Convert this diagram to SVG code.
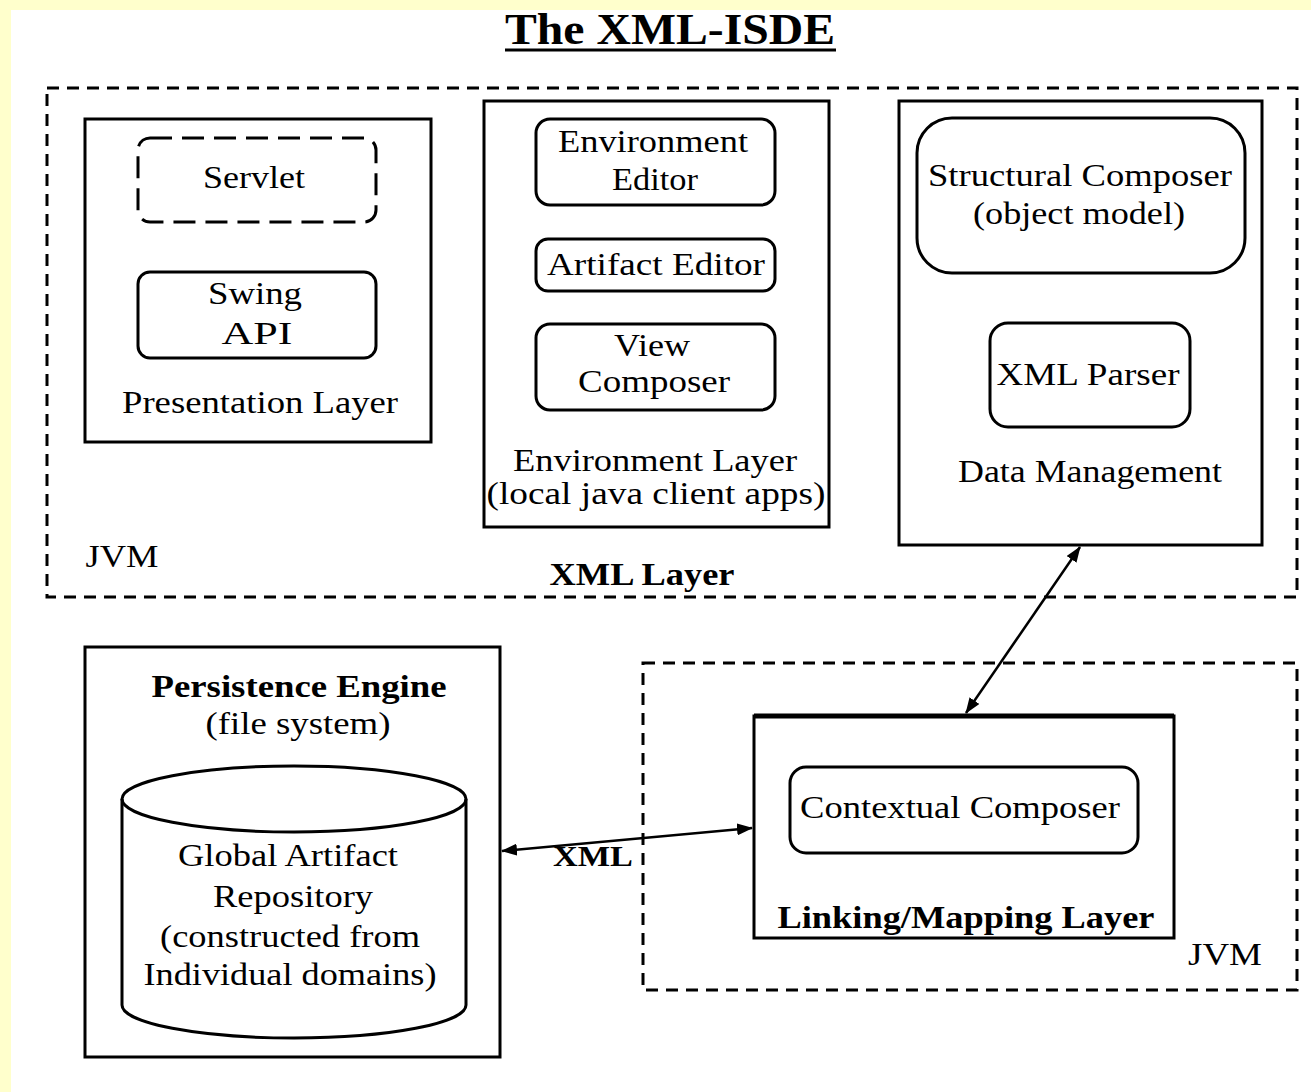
<svg xmlns="http://www.w3.org/2000/svg" width="1311" height="1092" viewBox="0 0 1311 1092">
  <defs>
    <style>
      text { font-family: "Liberation Serif", "Times New Roman", serif; font-size: 32px; fill: #000; text-anchor: middle; }
      .b { font-weight: bold; }
      .box { fill: none; stroke: #000; stroke-width: 3; }
      .jvm { fill: none; stroke: #000; stroke-width: 3; stroke-dasharray: 12 8; }
      .dash { fill: none; stroke: #000; stroke-width: 3; stroke-dasharray: 22 10; }
      .link { fill: none; stroke: #000; stroke-width: 2.5; }
    </style>
    <marker id="head" viewBox="0 0 16 12" refX="15" refY="6" markerWidth="16" markerHeight="12" markerUnits="userSpaceOnUse" orient="auto-start-reverse">
      <path d="M0,0 L16,6 L0,12 Z" fill="#000"/>
    </marker>
  </defs>

  <!-- page -->
  <rect x="0" y="0" width="1311" height="1092" fill="#FFFFCC"/>
  <rect x="11" y="10" width="1300" height="1082" fill="#FFFFFF"/>

  <!-- title -->
  <g id="title">
    <text x="670" y="44" class="b" style="font-size:44px" textLength="330" lengthAdjust="spacingAndGlyphs">The XML-ISDE</text>
    <line x1="505" y1="50" x2="836" y2="50" stroke="#000" stroke-width="3"/>
  </g>

  <!-- upper JVM: XML layer -->
  <g id="xml-layer">
    <rect class="jvm" x="47" y="88" width="1250" height="509"/>
    <text x="122" y="567" textLength="73" lengthAdjust="spacingAndGlyphs">JVM</text>
    <text x="642" y="585" class="b" textLength="185" lengthAdjust="spacingAndGlyphs">XML Layer</text>
  </g>

  <g id="presentation-layer">
    <rect class="box" x="85" y="119" width="346" height="323"/>
    <text x="260" y="413" textLength="276" lengthAdjust="spacingAndGlyphs">Presentation Layer</text>
  </g>
  <g id="servlet">
    <rect class="dash" x="138" y="138" width="238" height="84" rx="12"/>
    <text x="254" y="188" textLength="102" lengthAdjust="spacingAndGlyphs">Servlet</text>
  </g>
  <g id="swing-api">
    <rect class="box" x="138" y="272" width="238" height="86" rx="12"/>
    <text x="255" y="304" textLength="94" lengthAdjust="spacingAndGlyphs">Swing</text>
    <text x="257" y="344" textLength="71" lengthAdjust="spacingAndGlyphs">API</text>
  </g>

  <g id="environment-layer">
    <rect class="box" x="484" y="101" width="345" height="426"/>
    <text x="655" y="471" textLength="284" lengthAdjust="spacingAndGlyphs">Environment Layer</text>
    <text x="656" y="504" textLength="339" lengthAdjust="spacingAndGlyphs">(local java client apps)</text>
  </g>
  <g id="environment-editor">
    <rect class="box" x="536" y="119" width="239" height="86" rx="14"/>
    <text x="653" y="152" textLength="190" lengthAdjust="spacingAndGlyphs">Environment</text>
    <text x="655" y="190" textLength="86" lengthAdjust="spacingAndGlyphs">Editor</text>
  </g>
  <g id="artifact-editor">
    <rect class="box" x="536" y="239" width="239" height="52" rx="12"/>
    <text x="656" y="275" textLength="218" lengthAdjust="spacingAndGlyphs">Artifact Editor</text>
  </g>
  <g id="view-composer">
    <rect class="box" x="536" y="324" width="239" height="86" rx="14"/>
    <text x="652" y="356" textLength="76" lengthAdjust="spacingAndGlyphs">View</text>
    <text x="654" y="392" textLength="152" lengthAdjust="spacingAndGlyphs">Composer</text>
  </g>

  <g id="data-management">
    <rect class="box" x="899" y="101" width="363" height="444"/>
    <text x="1090" y="482" textLength="264" lengthAdjust="spacingAndGlyphs">Data Management</text>
  </g>
  <g id="structural-composer">
    <rect class="box" x="917" y="118" width="328" height="155" rx="35"/>
    <text x="1080" y="186" textLength="304" lengthAdjust="spacingAndGlyphs">Structural Composer</text>
    <text x="1079" y="224" textLength="212" lengthAdjust="spacingAndGlyphs">(object model)</text>
  </g>
  <g id="xml-parser">
    <rect class="box" x="990" y="323" width="200" height="104" rx="18"/>
    <text x="1088" y="385" textLength="183" lengthAdjust="spacingAndGlyphs">XML Parser</text>
  </g>

  <!-- persistence -->
  <g id="persistence-engine">
    <rect class="box" x="85" y="647" width="415" height="410"/>
    <text x="299" y="697" class="b" textLength="295" lengthAdjust="spacingAndGlyphs">Persistence Engine</text>
    <text x="298" y="734" textLength="185" lengthAdjust="spacingAndGlyphs">(file system)</text>
  </g>
  <g id="global-artifact-repository">
    <path class="box" d="M122,799 L122,1005 A172,33 0 0 0 466,1005 L466,799"/>
    <ellipse class="box" cx="294" cy="799" rx="172" ry="33"/>
    <text x="288" y="866" textLength="220" lengthAdjust="spacingAndGlyphs">Global Artifact</text>
    <text x="293" y="907" textLength="160" lengthAdjust="spacingAndGlyphs">Repository</text>
    <text x="290" y="947" textLength="260" lengthAdjust="spacingAndGlyphs">(constructed from</text>
    <text x="290" y="985" textLength="293" lengthAdjust="spacingAndGlyphs">Individual domains)</text>
  </g>

  <!-- lower JVM: linking/mapping -->
  <g id="lower-jvm">
    <rect class="jvm" x="643" y="663" width="654" height="327"/>
    <text x="1225" y="965" textLength="74" lengthAdjust="spacingAndGlyphs">JVM</text>
  </g>
  <g id="linking-mapping-layer">
    <rect class="box" x="754" y="716" width="420" height="222"/>
    <line x1="754" y1="716" x2="1174" y2="716" stroke="#000" stroke-width="5"/>
    <text x="966" y="928" class="b" textLength="377" lengthAdjust="spacingAndGlyphs">Linking/Mapping Layer</text>
  </g>
  <g id="contextual-composer">
    <rect class="box" x="790" y="767" width="348" height="86" rx="16"/>
    <text x="960" y="818" textLength="320" lengthAdjust="spacingAndGlyphs">Contextual Composer</text>
  </g>

  <!-- connectors -->
  <g id="connectors">
    <line class="link" x1="1080" y1="547" x2="966" y2="713" marker-start="url(#head)" marker-end="url(#head)"/>
    <line class="link" x1="502" y1="851" x2="752" y2="828" marker-start="url(#head)" marker-end="url(#head)"/>
    <text x="593" y="866" class="b" style="font-size:30px" textLength="80" lengthAdjust="spacingAndGlyphs">XML</text>
  </g>
</svg>
